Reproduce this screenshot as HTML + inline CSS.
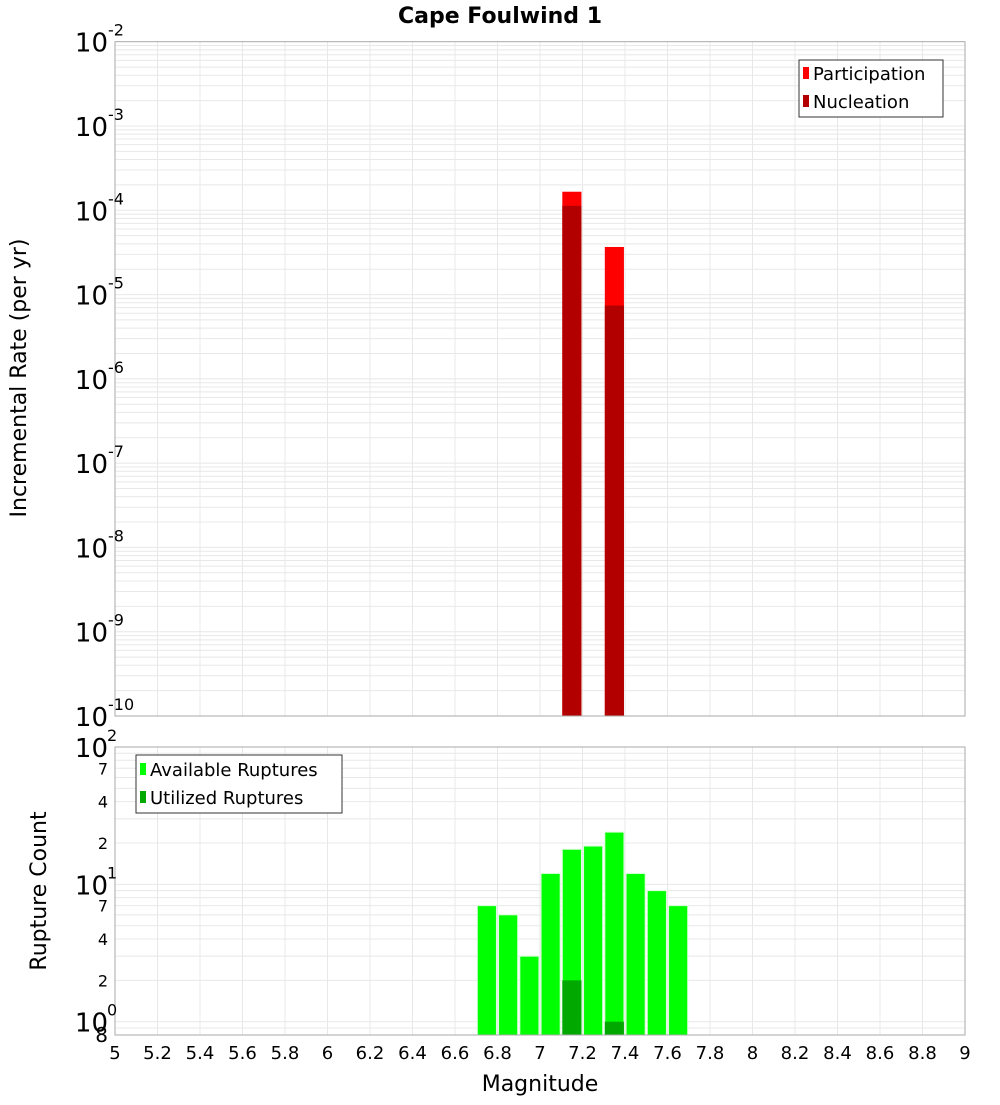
<!DOCTYPE html>
<html><head><meta charset="utf-8"><style>
body{margin:0;background:#fff;width:1000px;height:1100px;overflow:hidden;font-family:"Liberation Sans","DejaVu Sans",sans-serif}
svg text{font-family:"DejaVu Sans","Liberation Sans",sans-serif}
</style></head><body>
<svg id="c" width="1000" height="1100" xmlns="http://www.w3.org/2000/svg">
<text x="500" y="23" text-anchor="middle" font-size="22" font-weight="bold">Cape Foulwind 1</text>
<text transform="translate(26,378) rotate(-90)" text-anchor="middle" font-size="22">Incremental Rate (per yr)</text>
<text transform="translate(46,891) rotate(-90)" text-anchor="middle" font-size="22">Rupture Count</text>
<text x="540" y="1091" text-anchor="middle" font-size="22">Magnitude</text>
<g id="grid"></g><g id="bars"></g><g id="axes"></g>
<g>
<rect x="799" y="60" width="144" height="57" fill="#fff" stroke="#333"/>
<rect x="803" y="67" width="6" height="12" fill="#ff0000"/>
<text x="813" y="80" font-size="18">Participation</text>
<rect x="803" y="95" width="6" height="12" fill="#b20000"/>
<text x="813" y="108" font-size="18">Nucleation</text>
</g>
<g>
<rect x="136" y="755" width="206" height="58" fill="#fff" stroke="#333"/>
<rect x="140" y="763" width="6" height="12" fill="#00ff00"/>
<text x="150" y="776" font-size="18">Available Ruptures</text>
<rect x="140" y="791" width="6" height="12" fill="#00a800"/>
<text x="150" y="804" font-size="18">Utilized Ruptures</text>
</g>
</svg>
<script>
const rateMags=[7.15,7.35];
const participation=[1.66e-4,3.67e-5];
const nucleation=[1.13e-4,7.4e-6];
const countMags=[6.75,6.85,6.95,7.05,7.15,7.25,7.35,7.45,7.55,7.65];
const available=[7,6,3,12,18,19,24,12,9,7];
const utilizedMags=[7.15,7.35];
const utilized=[2,1];
const xTicks=[5,5.2,5.4,5.6,5.8,6,6.2,6.4,6.6,6.8,7,7.2,7.4,7.6,7.8,8,8.2,8.4,8.6,8.8,9];
const topExps=[-2,-3,-4,-5,-6,-7,-8,-9,-10];
const botMinorLabels=[2,4,7,20,40,70];

const NS="http://www.w3.org/2000/svg";
const L=115,R=965,T1=41.7,B1=716,T2=747,B2=1035;
const x=m=>L+(m-5)/4*(R-L);
const y1=v=>T1+(-2-Math.log10(v))/8*(B1-T1);
const y2=v=>T2+(2-Math.log10(v))/(2-Math.log10(0.8))*(B2-T2);
function mk(p,tag,a,txt){const e=document.createElementNS(NS,tag);for(const k in a)e.setAttribute(k,a[k]);if(txt!==undefined)e.textContent=txt;document.getElementById(p).appendChild(e);return e;}
// grid
for(const t of xTicks){for(const [a,b] of [[T1,B1],[T2,B2]]){
const g=mk('grid','line',{x1:x(t),x2:x(t),y1:a,y2:b,stroke:'#e8e8e8'});

}}
for(let e=-10;e<-2;e++)for(let k=1;k<10;k++){const v=k*Math.pow(10,e);
const g=mk('grid','line',{x1:L,x2:R,y1:y1(v),y2:y1(v),stroke:'#e8e8e8'});

}
for(const v of [0.8,0.9,1,2,3,4,5,6,7,8,9,10,20,30,40,50,60,70,80,90,100]){
const g=mk('grid','line',{x1:L,x2:R,y1:y2(v),y2:y2(v),stroke:'#e8e8e8'});

}
// bars
const bw=0.09;
rateMags.forEach((m,i)=>{
const a=mk('bars','rect',{x:x(m-bw/2),width:x(m+bw/2)-x(m-bw/2),y:y1(participation[i]),height:B1-y1(participation[i]),fill:'#ff0000'});


const b=mk('bars','rect',{x:x(m-bw/2),width:x(m+bw/2)-x(m-bw/2),y:y1(nucleation[i]),height:B1-y1(nucleation[i]),fill:'#b20000'});

});
countMags.forEach((m,i)=>{
const a=mk('bars','rect',{x:x(m-bw/2),width:x(m+bw/2)-x(m-bw/2),y:y2(available[i]),height:B2-y2(available[i]),fill:'#00ff00',stroke:'#d8ffd8','stroke-width':1});

});
utilizedMags.forEach((m,i)=>{
const a=mk('bars','rect',{x:x(m-bw/2),width:x(m+bw/2)-x(m-bw/2),y:y2(utilized[i]),height:B2-y2(utilized[i]),fill:'#00a800'});

});
// axes frames
for(const [a,b] of [[T1,B1],[T2,B2]]){
const f=mk('axes','rect',{x:L,y:a,width:R-L,height:b-a,fill:'none',stroke:'#aaa'});

}
// x tick labels
for(const t of xTicks){
const s=mk('axes','text',{x:x(t),y:1059,'text-anchor':'middle','font-size':18},String(+t.toFixed(1)));

}
// top y labels
for(const e of topExps){const yy=y1(Math.pow(10,e));
const s=mk('axes','text',{x:108,y:yy+10,'text-anchor':'end','font-size':26},'10');


const u=mk('axes','text',{x:108,y:yy-6,'font-size':16},String(e));

}
// bottom y labels
for(const e of [0,1,2]){const yy=y2(Math.pow(10,e));
const s=mk('axes','text',{x:108,y:yy+10,'text-anchor':'end','font-size':26},'10');


const u=mk('axes','text',{x:107,y:yy-6,'font-size':16},String(e));

}
for(const v of botMinorLabels){
const s=mk('axes','text',{x:108,y:y2(v)+6,'text-anchor':'end','font-size':16},String(String(v)[0]));

}
const s8=mk('axes','text',{x:108,y:y2(0.8)+7,'text-anchor':'end','font-size':20},'8');


</script>
</body></html>
